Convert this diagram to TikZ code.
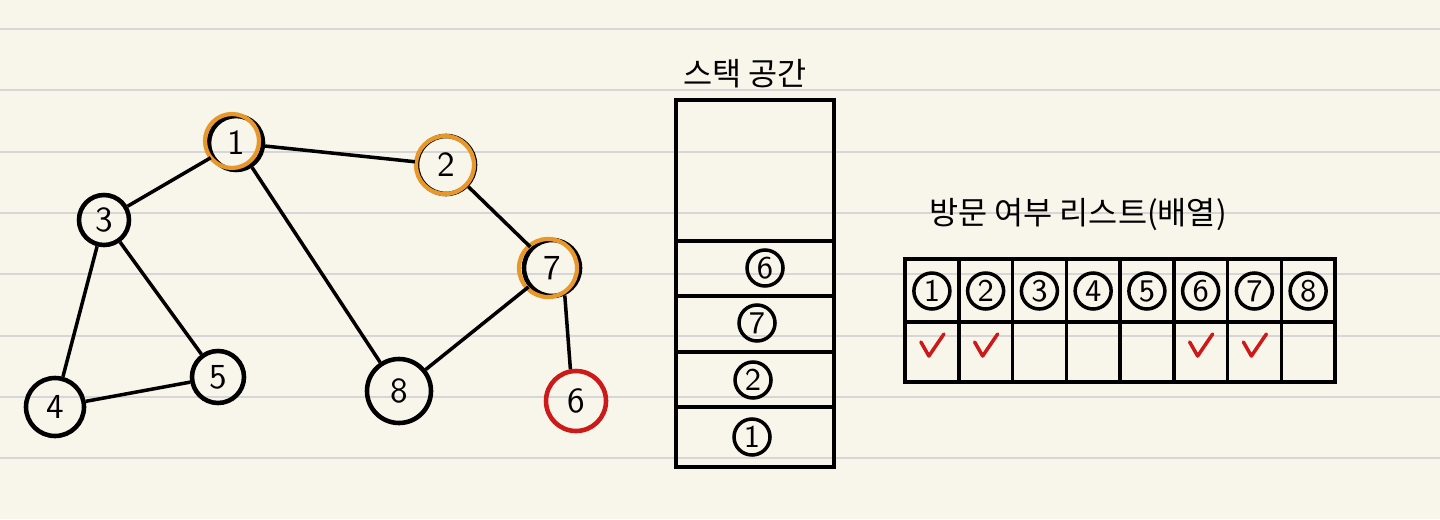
\documentclass[tikz,border=0pt]{standalone}
\usepackage{fontspec}
\newfontfamily\krfont{Noto Sans CJK KR}
\usepackage{tikz}
\usetikzlibrary{positioning}
\definecolor{paper}{RGB}{248,246,234}
\definecolor{ruling}{RGB}{214,214,214}
\definecolor{visited}{RGB}{232,152,42}
\definecolor{current}{RGB}{205,25,25}

\begin{document}
\begin{tikzpicture}[x=0.1mm,y=-0.1mm,line width=1pt,
      main node/.style={circle,draw,line width=1.3pt,minimum size=5.4mm,inner sep=0pt,font=\sffamily},
      ring/.style={circle,draw=visited,line width=1.2pt,minimum size=5.4mm,inner sep=0pt},
      cell node/.style={circle,draw,line width=1pt,minimum size=3.6mm,inner sep=0pt,font=\sffamily\small},
      title/.style={font=\krfont\fontsize{9}{11}\selectfont},
      tick mark/.style={draw=current,line width=1pt,line cap=round,line join=round}]
      \useasboundingbox (0,0) rectangle (1440,519);
      \fill[paper] (0,0) rectangle (1440,519);
      \foreach \ry in {29,90,152,213,274,336,397,458}
        \draw[ruling,line width=0.7pt] (0,\ry) -- (1440,\ry);

      % graph
      \node[main node] (n1) at (236,143) {1};
      \node[main node,minimum size=5.8mm] (n2) at (446,165) {2};
      \node[main node,minimum size=5mm] (n3) at (104,220) {3};
      \node[main node,minimum size=5.6mm] (n7) at (552,268) {7};
      \node[main node,minimum size=5.2mm] (n5) at (218,377) {5};
      \node[main node,minimum size=5.8mm] (n4) at (55,407) {4};
      \node[main node,minimum size=6.4mm] (n8) at (399,391) {8};
      \node[main node,draw=current,minimum size=6mm] (n6) at (576,401) {6};
      \node[ring] (r1) at (232,141) {};
      \node[ring,minimum size=5.8mm] (r2) at (445,165) {};
      \node[ring,minimum size=5.8mm] (r7) at (548,268) {};

      \path
        (n1) edge (n3)
        (n1) edge (n2)
        (n1) edge (n8)
        (n2) edge (n7)
        (n7) edge (n8)
        (n7.-65) edge (n6.100)
        (n3) edge (n4)
        (n3) edge (n5)
        (n4) edge (n5);

      % stack
      \node[title] (stack title) at (745,74) {스택 공간};
      \draw (676,100) rectangle (834,467);
      \foreach \ry in {241,296,352,407}
        \draw (676,\ry) -- (834,\ry);
      \node[cell node] (s6) at (765,268) {6};
      \node[cell node] (s7) at (757,323) {7};
      \node[cell node] (s2) at (753,380) {2};
      \node[cell node] (s1) at (752,437) {1};

      % visited list
      \node[title] (list title) at (1078,215) {방문 여부 리스트(배열)};
      \draw (905,259) rectangle (1335,382);
      \draw (905,322) -- (1335,322);
      \foreach \i in {1,...,7}
        \draw ({905+53.75*\i},259) -- ({905+53.75*\i},382);
      \foreach \i in {1,...,8}
        \node[cell node] (v\i) at ({905+53.75*(\i-0.5)},291) {\i};
      \foreach \i in {1,2,6,7}
        \draw[tick mark] ({905+53.75*(\i-0.5)-11},342) -- ++(8,14) -- ++(15,-22);
    \end{tikzpicture}
\end{document}
